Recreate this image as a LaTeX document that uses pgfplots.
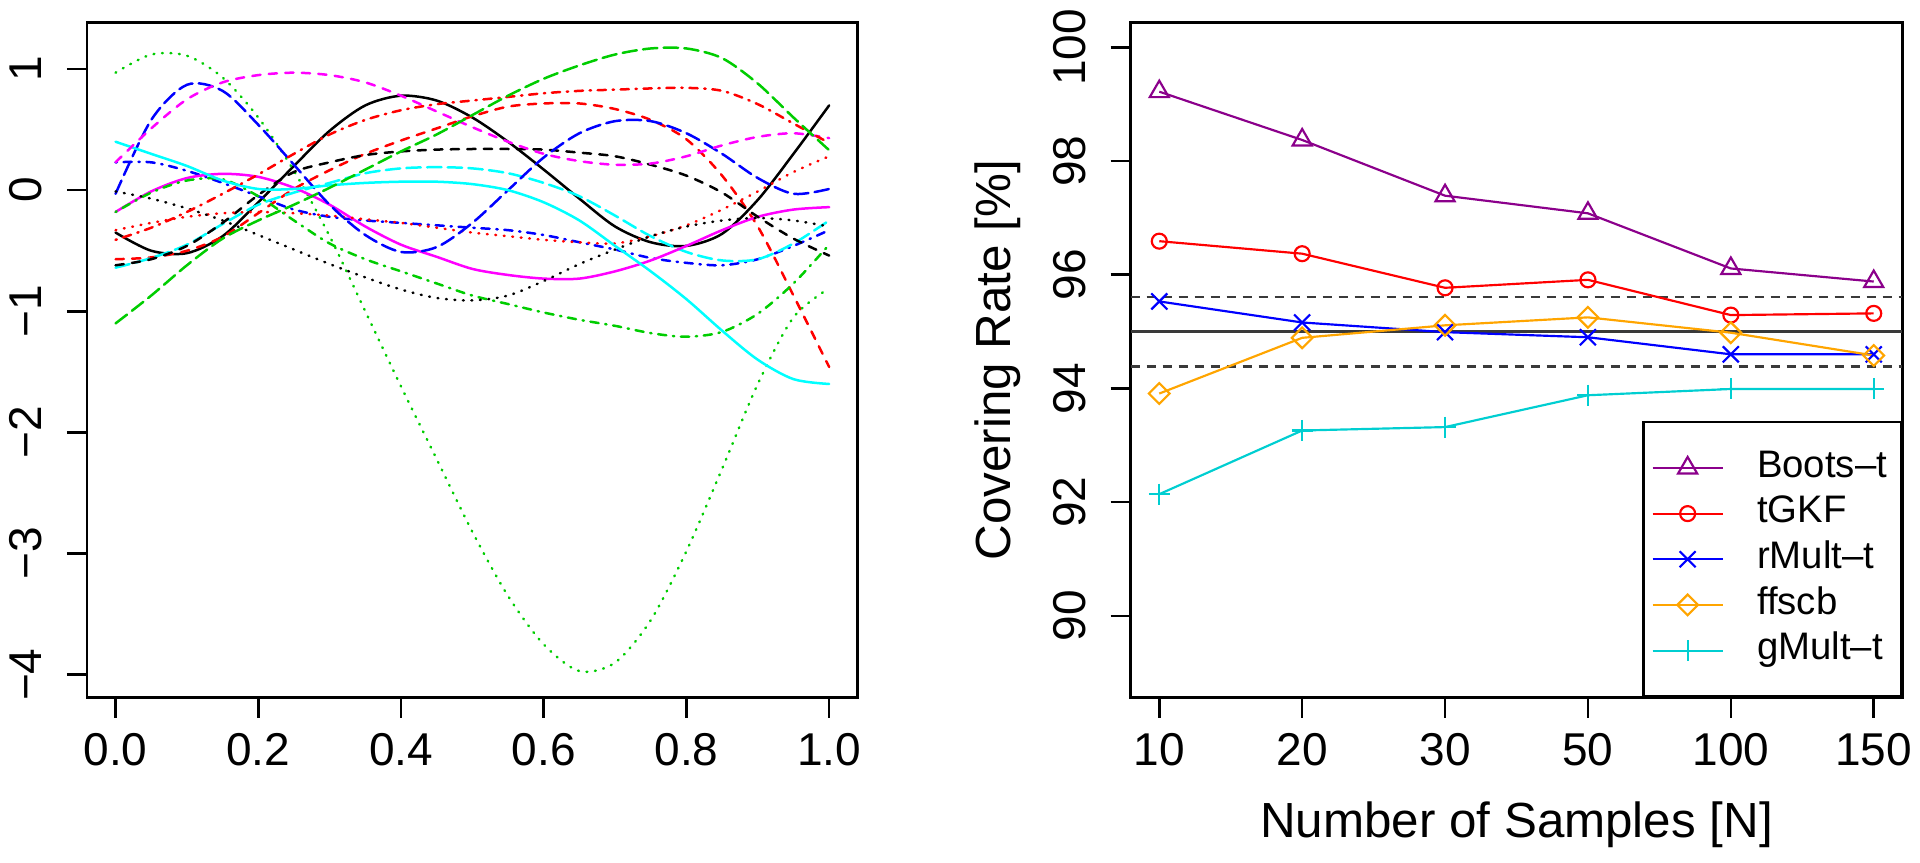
\documentclass[border=0pt]{standalone}
\usepackage{fontspec}
\setmainfont{Liberation Sans}
\usepackage{pgfplots}
\usepackage{pgfplotstable}
\pgfplotsset{compat=1.18}
\definecolor{bootcol}{HTML}{8B008B}
\definecolor{ffscbcol}{HTML}{FFA500}
\definecolor{gmultcol}{HTML}{00CED1}
\definecolor{rgreen}{HTML}{00CD00}
\definecolor{rcyan}{HTML}{00FFFF}
\definecolor{rmag}{HTML}{FF00FF}
\definecolor{refgray}{HTML}{3A3A3A}

% left panel curves: x, then 15 functions
\pgfplotstableread{
x     c1    c2     c3    c4    c5    c6     c7    c8    c9    c10   c11   c12   c13   c14   c15
0.00 -0.35 -0.57   0.97  0.23 -0.64 -0.18  -0.62 -0.33 -0.18 -0.03  0.40  0.23 -0.01 -0.41 -1.10
0.05 -0.50 -0.555  1.12  0.23 -0.56 -0.01  -0.57 -0.27 -0.02  0.58  0.30  0.51 -0.07 -0.31 -0.87
0.10 -0.52 -0.50   1.11  0.16 -0.45  0.10  -0.46 -0.22  0.08  0.87  0.20  0.75 -0.15 -0.18 -0.62
0.15 -0.38 -0.385  0.93  0.06 -0.28  0.135 -0.27 -0.19  0.09  0.82  0.08  0.89 -0.25 -0.03 -0.40
0.20 -0.10 -0.19   0.60 -0.05 -0.12  0.11  -0.04 -0.18 -0.05  0.54  0.01  0.95 -0.37  0.13 -0.25
0.25  0.20  0.01   0.16 -0.16 -0.02  0.02   0.15 -0.19 -0.25  0.21  0.01  0.97 -0.49  0.30 -0.12
0.30  0.49  0.165 -0.38 -0.22  0.06 -0.12   0.23 -0.21 -0.44 -0.12  0.04  0.95 -0.61  0.46  0.02
0.35  0.70  0.30  -1.00 -0.25  0.14 -0.30   0.29 -0.24 -0.57 -0.37  0.06  0.89 -0.72  0.58  0.17
0.40  0.78  0.41  -1.62 -0.27  0.18 -0.45   0.32 -0.27 -0.67 -0.51  0.07  0.78 -0.82  0.66  0.32
0.45  0.74  0.51  -2.22 -0.29  0.19 -0.55   0.335 -0.31 -0.77 -0.47 0.07  0.65 -0.89  0.71  0.46
0.50  0.60  0.61  -2.82 -0.31  0.18 -0.65   0.34 -0.35 -0.87 -0.27  0.05  0.52 -0.91  0.74  0.62
0.55  0.40  0.69  -3.35 -0.33  0.14 -0.70   0.34 -0.38 -0.94  0.00  0.00  0.40 -0.87  0.77  0.78
0.60  0.17  0.716 -3.75 -0.37  0.06 -0.73   0.335 -0.41 -1.01 0.27 -0.10  0.30 -0.75  0.80  0.92
0.65 -0.07  0.716 -3.97 -0.43 -0.05 -0.73   0.31 -0.43 -1.07  0.47 -0.25  0.24 -0.61  0.82  1.03
0.70 -0.30  0.67  -3.90 -0.49 -0.21 -0.67   0.28 -0.44 -1.12  0.57 -0.46  0.21 -0.49  0.83  1.12
0.75 -0.43  0.58  -3.55 -0.56 -0.38 -0.58   0.21 -0.38 -1.18  0.57 -0.67  0.22 -0.38  0.84  1.17
0.80 -0.46  0.42  -2.98 -0.60 -0.51 -0.46   0.12 -0.29 -1.21  0.47 -0.90  0.28 -0.30  0.845 1.17
0.85 -0.36  0.12  -2.30 -0.62 -0.58 -0.33  -0.02 -0.16 -1.17  0.30 -1.16  0.37 -0.25  0.82  1.09
0.90 -0.08 -0.30  -1.60 -0.57 -0.57 -0.22  -0.22 -0.01 -1.02  0.10 -1.40  0.44 -0.23  0.71  0.88
0.95  0.30 -0.87  -1.05 -0.46 -0.44 -0.16  -0.40  0.15 -0.77 -0.03 -1.56  0.47 -0.25  0.55  0.60
1.00  0.70 -1.46  -0.81 -0.33 -0.25 -0.14  -0.54  0.28 -0.45  0.01 -1.60  0.43 -0.30  0.39  0.33
}\curves

% right panel: categories 10,20,30,50,100,150 plotted at 0..5
\pgfplotstableread{
i  boots  tgkf   rmult  ffscb  gmult
0  99.22  96.59  95.53  93.91  92.14
1  98.37  96.37  95.16  94.89  93.26
2  97.39  95.77  94.99  95.11  93.32
3  97.08  95.91  94.90  95.25  93.88
4  96.11  95.29  94.60  94.98  93.99
5  95.88  95.32  94.60  94.58  93.99
}\cover

\tikzset{
  rsolid/.style={solid},
  rdashed/.style={dash pattern=on 2.48pt off 2.48pt},
  rdotted/.style={dash pattern=on 0.25pt off 2.3pt},
  rdotdash/.style={dash pattern=on 0.4pt off 2.0pt on 2.48pt off 2.0pt},
  rlongdash/.style={dash pattern=on 4.34pt off 1.86pt},
}

\newcommand{\rfont}{\fontsize{13.8}{16.5}\selectfont}
\newcommand{\lfont}{\fontsize{14.8}{17.5}\selectfont}

\pgfplotsset{
  rstyle/.style={
    scale only axis,
    anchor=south west,
    axis line style={line width=0.75pt, black},
    every tick/.style={black, line width=0.75pt},
    tick pos=left,
    tick align=outside,
    major tick length=6pt,
    tick label style={font=\rfont},
    xticklabel style={anchor=north, inner sep=0pt, yshift=-4.6pt},
    yticklabel style={rotate=90, anchor=south, inner sep=0pt, inner ysep=7.3pt},
    /pgf/number format/assume math mode=true,
  },
  curve/.style={line width=0.75pt, line cap=round, smooth, tension=0.5, no markers},
}

\begin{document}
\begin{tikzpicture}
\path[use as bounding box] (0,0) rectangle (576pt,-258.9pt);

% ---------------- left panel ----------------
\begin{axis}[rstyle,
  at={(26.1pt,-209.31pt)},
  width=231.21pt, height=202.62pt,
  xmin=-0.04, xmax=1.04, ymin=-4.19, ymax=1.386,
  xtick={0,0.2,0.4,0.6,0.8,1},
  xticklabels={0.0,0.2,0.4,0.6,0.8,1.0},
  ytick={-4,-3,-2,-1,0,1},
  yticklabels={−4,−3,−2,−1,0,1},
]
\addplot[curve, black, rsolid]    table[x=x,y=c1]  {\curves};
\addplot[curve, red, rdashed]     table[x=x,y=c2]  {\curves};
\addplot[curve, rgreen, rdotted]  table[x=x,y=c3]  {\curves};
\addplot[curve, blue, rdotdash]   table[x=x,y=c4]  {\curves};
\addplot[curve, rcyan, rlongdash] table[x=x,y=c5]  {\curves};
\addplot[curve, rmag, rsolid]     table[x=x,y=c6]  {\curves};
\addplot[curve, black, rdashed]   table[x=x,y=c7]  {\curves};
\addplot[curve, red, rdotted]     table[x=x,y=c8]  {\curves};
\addplot[curve, rgreen, rdotdash] table[x=x,y=c9]  {\curves};
\addplot[curve, blue, rlongdash]  table[x=x,y=c10] {\curves};
\addplot[curve, rcyan, rsolid]    table[x=x,y=c11] {\curves};
\addplot[curve, rmag, rdashed]    table[x=x,y=c12] {\curves};
\addplot[curve, black, rdotted]   table[x=x,y=c13] {\curves};
\addplot[curve, red, rdotdash]    table[x=x,y=c14] {\curves};
\addplot[curve, rgreen, rlongdash] table[x=x,y=c15] {\curves};
\end{axis}

% ---------------- right panel ----------------
\begin{axis}[rstyle,
  at={(339.21pt,-209.31pt)},
  width=231.48pt, height=202.62pt,
  xmin=-0.2, xmax=5.2, ymin=88.56, ymax=100.44,
  xtick={0,1,2,3,4,5},
  xticklabels={10,20,30,50,100,150},
  ytick={90,92,94,96,98,100},
  yticklabels={90,92,94,96,98,100},
  xlabel={Number of Samples [N]},
  ylabel={Covering Rate [\%]},
  every axis x label/.style={at={(axis description cs:0.5,-0.1875)}, anchor=center, font=\lfont},
  every axis y label/.style={at={(axis description cs:-0.172,0.5)}, rotate=90, anchor=center, font=\lfont},
  legend cell align=left,
  legend image code/.code={\draw[mark repeat=2,mark phase=2,#1] plot coordinates {(0pt,0pt) (10.5pt,0pt) (21pt,0pt)};},
  legend style={at={(1,0)}, anchor=south east, draw=black, line width=0.75pt, fill=white,
    inner xsep=2.4pt, inner ysep=6.9pt, row sep=0pt,
    font=\fontsize{11.5}{13}\selectfont,
    nodes={inner xsep=0pt, inner ysep=1.8pt, text height=7.8pt, text depth=2.3pt, text width=40.8pt, align=left},
    /tikz/every odd column/.style={column sep=10pt}},
]
\addplot[refgray, line width=0.75pt, forget plot] coordinates {(-0.2,95) (5.2,95)};
\addplot[refgray, line width=0.75pt, dash pattern=on 2.7pt off 2.1pt, forget plot] coordinates {(-0.2,95.61) (5.2,95.61)};
\addplot[refgray, line width=0.75pt, dash pattern=on 2.7pt off 2.1pt, forget plot] coordinates {(-0.2,94.39) (5.2,94.39)};

\addplot[bootcol, line width=0.65pt, mark=triangle, mark size=3.3pt, mark options={solid}] table[x=i,y=boots] {\cover};
\addlegendentry{Boots–t}
\addplot[red, line width=0.65pt, mark=o, mark size=2.25pt, mark options={solid}] table[x=i,y=tgkf] {\cover};
\addlegendentry{tGKF}
\addplot[blue, line width=0.65pt, mark=x, mark size=3.4pt, mark options={solid}] table[x=i,y=rmult] {\cover};
\addlegendentry{rMult–t}
\addplot[ffscbcol, line width=0.65pt, mark=square, mark size=2.2pt, mark options={solid, rotate=45}] table[x=i,y=ffscb] {\cover};
\addlegendentry{ffscb}
\addplot[gmultcol, line width=0.65pt, mark=+, mark size=3.15pt, mark options={solid}] table[x=i,y=gmult] {\cover};
\addlegendentry{gMult–t}
\end{axis}
\end{tikzpicture}
\end{document}
